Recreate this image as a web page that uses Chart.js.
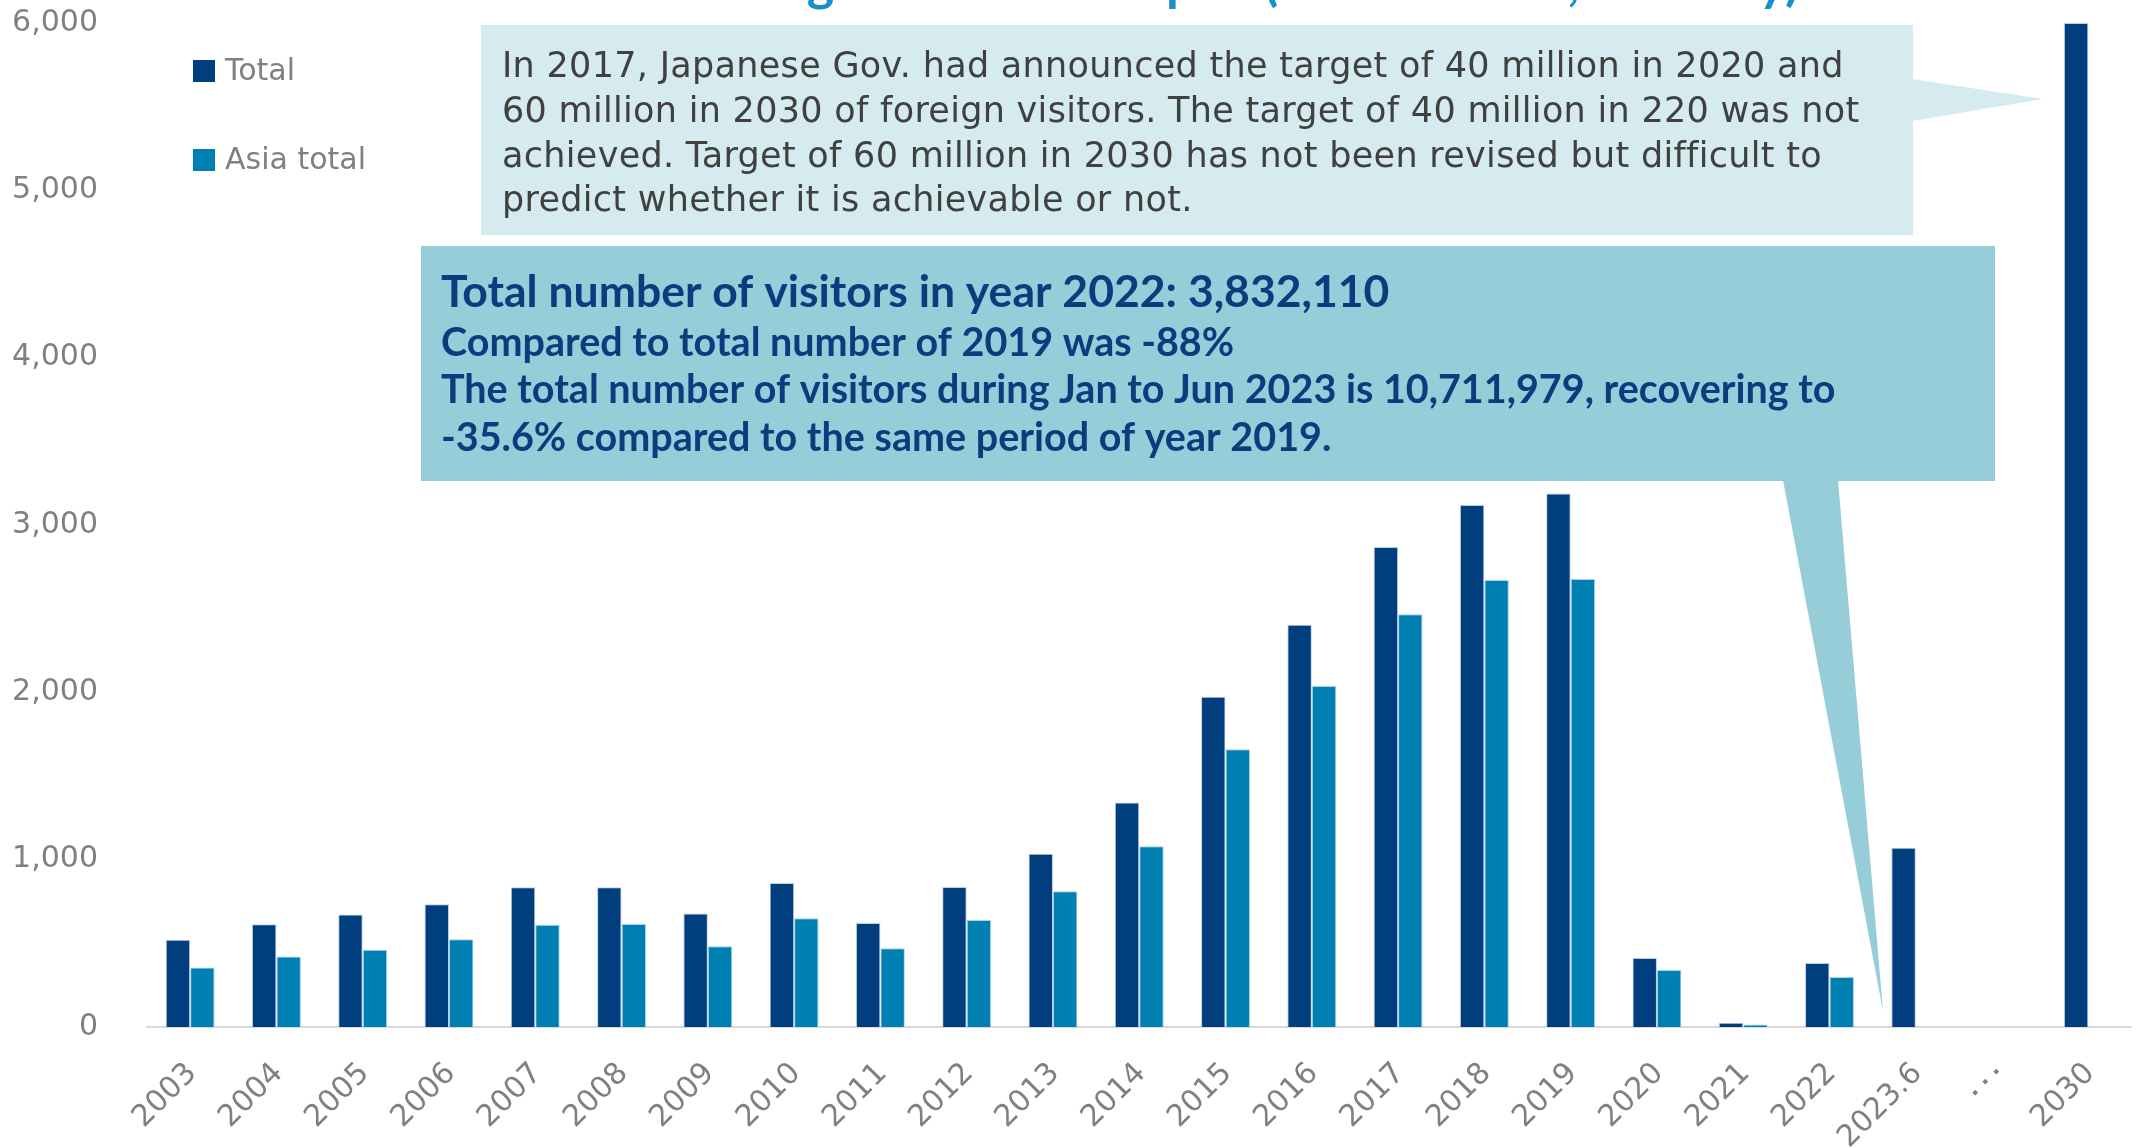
<!DOCTYPE html>
<html lang="en">
<head>
<meta charset="UTF-8">
<title>Foreign visitors to Japan</title>
<script src="https://cdn.jsdelivr.net/npm/chart.js"></script>
<style>
    html, body { margin: 0; padding: 0; background: #ffffff; }
    #caixa { position: relative; width: 2143px; height: 1148px; }
</style>
</head>
<body>
<div id="caixa">
    <canvas id="grafico"></canvas>
</div>

<script>
    // categorias do eixo X (unidade: 10 mil pessoas)
    const anos = ['2003', '2004', '2005', '2006', '2007', '2008', '2009', '2010', '2011', '2012',
        '2013', '2014', '2015', '2016', '2017', '2018', '2019', '2020', '2021', '2022',
        '2023.6', '･･･', '2030'];

    const total = [521, 614, 673, 733, 835, 835, 679, 861, 622, 836,
        1036, 1341, 1974, 2404, 2869, 3119, 3188, 412, 25, 383,
        1071, null, 6000];

    const asiaTotal = [355, 422, 462, 524, 611, 615, 482, 650, 470, 640,
        811, 1080, 1660, 2038, 2466, 2671, 2677, 341, 15, 299,
        null, null, null];

    const ticksY = [0, 1000, 2000, 3000, 4000, 5000, 6000];

    const textoMeta = [
        'In 2017, Japanese Gov. had announced the target of 40 million in 2020 and',
        '60 million in 2030 of foreign visitors. The target of 40 million in 220 was not',
        'achieved. Target of 60 million in 2030 has not been revised but difficult to',
        'predict whether it is achievable or not.'
    ];

    const textoResumo = [
        'Total number of visitors in year 2022: 3,832,110',
        'Compared to total number of 2019 was -88%',
        'The total number of visitors during Jan to Jun 2023 is 10,711,979, recovering to',
        '-35.6% compared to the same period of year 2019.'
    ];

    const tituloGrafico = 'Trend of foreign visitors to Japan (10 thousand, annually)';

    const corTotal = '#003e7e';
    const corAsia = '#0080b2';
    const cinza = '#808080';

    // legenda desenhada dentro da área do gráfico, no canto superior esquerdo
    const legendaInterna = {
        id: 'legendaInterna',
        afterDraw(chart) {
            const ctx = chart.ctx;
            ctx.save();
            ctx.font = '30px "DejaVu Sans"';
            ctx.textBaseline = 'middle';
            chart.data.datasets.forEach((ds, i) => {
                const y = 71 + i * 89;
                ctx.fillStyle = ds.backgroundColor;
                ctx.fillRect(193, y - 11, 22, 22);
                ctx.fillStyle = cinza;
                ctx.fillText(ds.label, 225, y + 1);
            });
            ctx.restore();
        }
    };

    // balões de texto por cima das barras
    const baloes = {
        id: 'baloes',
        afterDraw(chart) {
            const ctx = chart.ctx;
            ctx.save();

            // título (só aparece a parte de baixo, cortado no topo)
            ctx.font = 'bold 52px Lato';
            ctx.fillStyle = '#1a8fcb';
            ctx.textBaseline = 'alphabetic';
            const antes = ctx.measureText('Trend of foreign visitors to Japan ').width;
            ctx.fillText(tituloGrafico, 1264 - antes, 0);

            // balão claro com a meta do governo
            ctx.fillStyle = '#d5ebf0';
            ctx.fillRect(481, 25, 1432, 210);
            ctx.beginPath();
            ctx.moveTo(1912, 79);
            ctx.lineTo(2043, 99);
            ctx.lineTo(1912, 121);
            ctx.closePath();
            ctx.fill();

            ctx.fillStyle = '#404040';
            ctx.font = '35px "DejaVu Sans"';
            ctx.letterSpacing = '0.3px';
            const linhasMeta = [77, 122, 167, 211];
            textoMeta.forEach((t, i) => ctx.fillText(t, 502, linhasMeta[i]));
            ctx.letterSpacing = '0px';

            // balão escuro com o resumo de 2022/2023
            ctx.fillStyle = '#96cdd9';
            ctx.fillRect(421, 246, 1574, 235);
            ctx.beginPath();
            ctx.moveTo(1783, 480);
            ctx.lineTo(1883, 1011);
            ctx.lineTo(1838, 480);
            ctx.closePath();
            ctx.fill();

            ctx.fillStyle = '#0b3d7e';
            ctx.font = 'bold 44.5px Lato';
            ctx.fillText(textoResumo[0], 441, 307);
            ctx.font = 'bold 39.5px Lato';
            ctx.fillText(textoResumo[1], 441, 356);
            ctx.fillText(textoResumo[2], 441, 403);
            ctx.fillText(textoResumo[3], 441, 451);

            ctx.restore();
        }
    };

    const dados = {
        labels: anos,
        datasets: [{
            label: 'Total',
            data: total,
            backgroundColor: corTotal,
            borderColor: '#b9cde0',
            borderWidth: 1
        },
        {
            label: 'Asia total',
            data: asiaTotal,
            backgroundColor: corAsia,
            borderColor: '#a9d3e6',
            borderWidth: 1
        }]
    };

    const config = {
        type: 'bar',
        data: dados,
        options: {
            responsive: true,
            maintainAspectRatio: false,
            animation: false,
            devicePixelRatio: 1,
            layout: {
                padding: { top: 23, right: 9, left: 0, bottom: 0 }
            },
            datasets: {
                bar: {
                    categoryPercentage: 0.567,
                    barPercentage: 1
                }
            },
            plugins: {
                legend: { display: false },
                tooltip: { enabled: false }
            },
            scales: {
                x: {
                    grid: { display: false, drawTicks: false },
                    border: { display: true, color: '#d9d9d9', width: 2 },
                    ticks: {
                        color: cinza,
                        font: { family: 'DejaVu Sans', size: 30 },
                        minRotation: 45,
                        maxRotation: 45,
                        autoSkip: false,
                        padding: 29,
                        labelOffset: 2
                    },
                    afterFit(escala) { escala.height = 121; }
                },
                y: {
                    min: 0,
                    max: 6000,
                    grid: { display: false, drawTicks: false },
                    border: { display: false },
                    afterBuildTicks(escala) {
                        escala.ticks = ticksY.map(v => ({ value: v }));
                    },
                    ticks: {
                        color: cinza,
                        font: { family: 'DejaVu Sans', size: 30 },
                        padding: 49,
                        callback: v => v.toLocaleString('en-US')
                    },
                    afterFit(escala) {
                        // área do gráfico fica presa ao padding do layout
                        escala.width = 147;
                        escala.paddingTop = 0;
                        escala.paddingBottom = 0;
                    }
                }
            }
        },
        plugins: [legendaInterna, baloes]
    };

    new Chart(document.getElementById('grafico'), config);
</script>
</body>
</html>
